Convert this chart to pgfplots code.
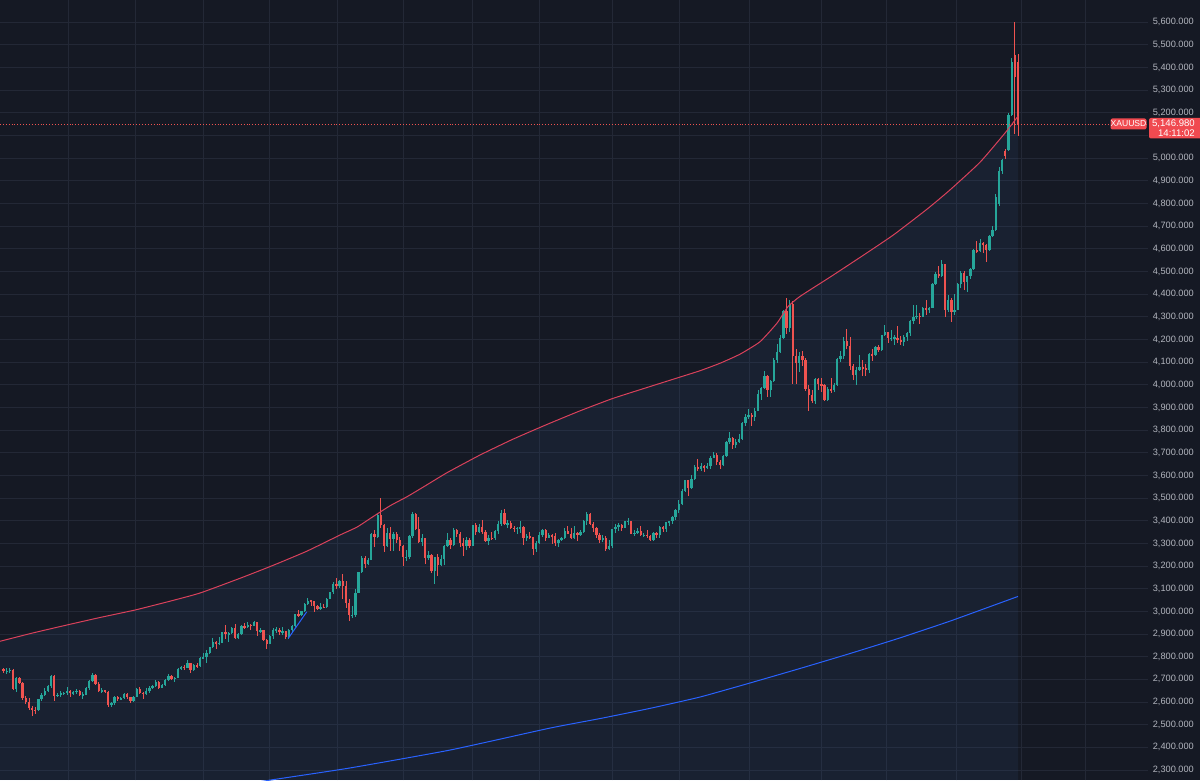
\documentclass[border=0pt]{standalone}
\usepackage{pgfplots}
\pgfplotsset{compat=1.18}
\usepackage{pgfplotstable}
\usepackage{fontspec}
\setmainfont{Liberation Sans}
\definecolor{bg}{HTML}{151924}
\definecolor{fillbase}{HTML}{3C64A0}
\definecolor{gridc}{HTML}{232836}
\definecolor{upc}{HTML}{26A69A}
\definecolor{dnc}{HTML}{EF5350}
\definecolor{bandr}{HTML}{D9415B}
\definecolor{bandb}{HTML}{2962FF}
\definecolor{lbl}{HTML}{B2B5BE}
\definecolor{tag}{HTML}{F04A50}

\pgfplotstableread{
i o h l c
0 2744 2750 2728 2736
1 2736 2749 2724 2737
2 2737 2750 2726 2742
3 2742 2746 2652 2659
4 2659 2711 2643 2706
5 2706 2712 2678 2685
6 2685 2688 2611 2619
7 2619 2627 2590 2598
8 2598 2618 2565 2573
9 2573 2581 2537 2565
10 2565 2577 2546 2563
11 2563 2615 2560 2612
12 2612 2640 2605 2631
13 2631 2660 2625 2650
14 2650 2674 2645 2670
15 2670 2721 2664 2715
16 2715 2720 2605 2626
17 2626 2640 2620 2633
18 2633 2647 2622 2638
19 2638 2646 2630 2639
20 2639 2665 2632 2650
21 2650 2652 2622 2640
22 2640 2650 2632 2643
23 2643 2657 2637 2650
24 2650 2655 2628 2632
25 2632 2645 2614 2633
26 2633 2668 2630 2660
27 2660 2697 2655 2694
28 2694 2726 2690 2718
29 2718 2722 2675 2680
30 2680 2690 2643 2648
31 2648 2660 2638 2652
32 2652 2655 2638 2646
33 2646 2650 2580 2587
34 2587 2598 2580 2594
35 2594 2626 2585 2622
36 2622 2625 2603 2612
37 2612 2621 2608 2617
38 2617 2639 2615 2634
39 2634 2639 2614 2621
40 2621 2623 2597 2606
41 2606 2628 2598 2624
42 2624 2662 2622 2658
43 2658 2665 2636 2640
44 2640 2646 2615 2636
45 2636 2660 2630 2648
46 2648 2670 2640 2662
47 2662 2675 2658 2670
48 2670 2697 2665 2690
49 2690 2692 2657 2663
50 2663 2680 2660 2677
51 2677 2700 2670 2697
52 2697 2725 2694 2715
53 2715 2718 2698 2702
54 2702 2712 2690 2708
55 2708 2748 2706 2745
56 2745 2760 2740 2755
57 2755 2763 2743 2752
58 2752 2785 2750 2771
59 2771 2773 2730 2740
60 2740 2766 2738 2763
61 2763 2770 2750 2758
62 2758 2800 2756 2794
63 2794 2817 2790 2798
64 2798 2830 2772 2815
65 2815 2845 2810 2842
66 2842 2882 2840 2866
67 2866 2870 2835 2856
68 2856 2886 2853 2861
69 2861 2911 2860 2908
70 2908 2942 2880 2898
71 2898 2910 2865 2904
72 2904 2932 2900 2928
73 2928 2945 2876 2883
74 2883 2905 2880 2898
75 2898 2938 2897 2935
76 2935 2947 2922 2931
77 2931 2955 2927 2940
78 2940 2944 2918 2936
79 2936 2956 2934 2951
80 2951 2952 2890 2915
81 2915 2925 2904 2916
82 2916 2920 2870 2875
83 2875 2880 2833 2858
84 2858 2896 2856 2893
85 2893 2928 2880 2918
86 2918 2930 2905 2920
87 2920 2925 2895 2910
88 2910 2930 2895 2912
89 2912 2915 2880 2889
90 2889 2921 2880 2916
91 2916 2940 2910 2934
92 2934 2990 2932 2988
93 2988 3005 2975 2984
94 2984 3002 2980 3000
95 3000 3038 2998 3034
96 3034 3057 3030 3048
97 3048 3050 3022 3044
98 3044 3047 2999 3022
99 3022 3030 3004 3011
100 3011 3035 3006 3020
101 3020 3032 3013 3018
102 3018 3060 3014 3056
103 3056 3087 3054 3085
104 3085 3128 3076 3123
105 3123 3149 3100 3113
106 3113 3140 3105 3134
107 3134 3167 3054 3114
108 3114 3136 3015 3037
109 3037 3055 2956 2982
110 2982 3023 2970 2985
111 2985 3100 2975 3082
112 3082 3176 3080 3175
113 3175 3245 3170 3237
114 3237 3245 3193 3210
115 3210 3236 3205 3228
116 3228 3345 3225 3342
117 3342 3358 3283 3327
118 3327 3430 3325 3425
119 3425 3500 3367 3381
120 3381 3386 3260 3288
121 3288 3368 3285 3348
122 3348 3371 3267 3318
123 3318 3351 3268 3343
124 3343 3352 3300 3316
125 3316 3327 3268 3288
126 3288 3291 3202 3238
127 3238 3270 3222 3240
128 3240 3337 3230 3333
129 3333 3438 3325 3430
130 3430 3435 3360 3365
131 3365 3415 3300 3306
132 3306 3340 3290 3325
133 3325 3326 3208 3235
134 3235 3265 3228 3250
135 3250 3252 3170 3178
136 3178 3242 3120 3240
137 3240 3252 3154 3203
138 3203 3250 3200 3229
139 3229 3295 3205 3290
140 3290 3345 3285 3315
141 3315 3325 3277 3294
142 3294 3366 3287 3357
143 3357 3365 3330 3342
144 3342 3350 3285 3300
145 3300 3325 3245 3288
146 3288 3330 3272 3317
147 3317 3325 3280 3289
148 3289 3383 3288 3380
149 3380 3392 3335 3352
150 3352 3385 3345 3372
151 3372 3404 3340 3352
152 3352 3358 3306 3310
153 3310 3335 3295 3325
154 3325 3349 3315 3322
155 3322 3360 3315 3355
156 3355 3400 3340 3386
157 3386 3446 3378 3432
158 3432 3452 3380 3385
159 3385 3403 3368 3388
160 3388 3398 3362 3369
161 3369 3375 3350 3364
162 3364 3373 3340 3368
163 3368 3398 3348 3372
164 3372 3375 3295 3323
165 3323 3340 3311 3332
166 3332 3350 3318 3327
167 3327 3330 3250 3274
168 3274 3310 3262 3303
169 3303 3350 3298 3338
170 3338 3365 3330 3357
171 3357 3365 3310 3326
172 3326 3345 3322 3337
173 3337 3342 3296 3331
174 3331 3347 3287 3301
175 3301 3318 3283 3313
176 3313 3330 3310 3324
177 3324 3368 3320 3355
178 3355 3375 3340 3343
179 3343 3366 3320 3324
180 3324 3377 3320 3347
181 3347 3352 3310 3338
182 3338 3360 3332 3350
183 3350 3402 3345 3397
184 3397 3438 3383 3431
185 3431 3434 3381 3387
186 3387 3395 3351 3368
187 3368 3372 3325 3336
188 3336 3345 3301 3314
189 3314 3335 3308 3326
190 3326 3334 3268 3275
191 3275 3315 3272 3289
192 3289 3364 3280 3362
193 3362 3385 3345 3373
194 3373 3390 3355 3380
195 3380 3385 3355 3369
196 3369 3400 3368 3397
197 3397 3410 3380 3398
198 3398 3400 3340 3342
199 3342 3358 3331 3348
200 3348 3369 3342 3356
201 3356 3375 3332 3335
202 3335 3345 3330 3338
203 3338 3357 3323 3332
204 3332 3335 3310 3315
205 3315 3350 3311 3348
206 3348 3352 3325 3339
207 3339 3378 3322 3372
208 3372 3376 3351 3365
209 3365 3394 3350 3393
210 3393 3398 3378 3397
211 3397 3423 3385 3416
212 3416 3454 3403 3448
213 3448 3490 3436 3476
214 3476 3540 3470 3533
215 3533 3580 3525 3578
216 3578 3580 3511 3545
217 3545 3600 3540 3586
218 3586 3646 3580 3636
219 3636 3674 3620 3627
220 3627 3656 3619 3641
221 3641 3645 3613 3634
222 3634 3655 3630 3643
223 3643 3685 3630 3679
224 3679 3703 3675 3690
225 3690 3697 3645 3660
226 3660 3668 3628 3644
227 3644 3690 3640 3685
228 3685 3750 3682 3746
229 3746 3790 3740 3763
230 3763 3770 3718 3736
231 3736 3761 3722 3749
232 3749 3782 3742 3760
233 3760 3835 3757 3833
234 3833 3872 3817 3858
235 3858 3895 3850 3866
236 3866 3875 3820 3857
237 3857 3897 3840 3886
238 3886 3977 3884 3961
239 3961 3990 3935 3985
240 3985 4060 3980 4040
241 4040 4045 3945 3975
242 3975 4022 3944 4017
243 4017 4117 4012 4110
244 4110 4180 4095 4143
245 4143 4218 4140 4208
246 4208 4330 4200 4326
247 4326 4381 4226 4251
248 4251 4375 4235 4356
249 4356 4370 4004 4125
250 4125 4160 4004 4095
251 4095 4146 4056 4126
252 4126 4147 4085 4111
253 4111 4116 3971 3981
254 3981 3999 3886 3953
255 3953 3975 3920 3930
256 3930 4030 3915 4025
257 4025 4030 3975 4002
258 4002 4030 3966 3998
259 3998 4005 3930 3932
260 3932 3990 3928 3980
261 3980 4028 3965 3977
262 3977 4010 3970 4000
263 4000 4120 3995 4115
264 4115 4149 4100 4127
265 4127 4210 4115 4195
266 4195 4245 4160 4170
267 4170 4210 4065 4085
268 4085 4093 4020 4045
269 4045 4080 4000 4067
270 4067 4132 4060 4078
271 4078 4110 4040 4074
272 4074 4090 4040 4065
273 4065 4140 4050 4135
274 4135 4156 4105 4131
275 4131 4170 4125 4165
276 4165 4175 4145 4155
277 4155 4220 4150 4218
278 4218 4264 4215 4231
279 4231 4233 4185 4205
280 4205 4240 4195 4206
281 4206 4218 4175 4208
282 4208 4258 4185 4197
283 4197 4215 4175 4190
284 4190 4218 4170 4209
285 4209 4235 4195 4229
286 4229 4287 4215 4280
287 4280 4352 4270 4300
288 4300 4350 4290 4305
289 4305 4315 4270 4301
290 4301 4345 4298 4338
291 4338 4375 4310 4332
292 4332 4345 4315 4339
293 4339 4450 4337 4445
294 4445 4497 4440 4490
295 4490 4526 4470 4480
296 4480 4550 4475 4532
297 4532 4535 4300 4330
298 4330 4395 4320 4375
299 4375 4385 4275 4320
300 4320 4400 4310 4330
301 4330 4450 4328 4445
302 4445 4500 4425 4495
303 4495 4500 4420 4455
304 4455 4480 4410 4478
305 4478 4515 4465 4510
306 4510 4600 4505 4595
307 4595 4635 4580 4590
308 4590 4642 4585 4625
309 4625 4630 4580 4615
310 4615 4620 4540 4595
311 4595 4660 4590 4655
312 4655 4700 4650 4685
313 4685 4840 4680 4830
314 4800 4960 4790 4945
315 4945 4995 4930 4990
316 5030 5040 4998 5010
317 5036 5200 5030 5190
318 5190 5440 5185 5425
319 5455 5600 5105 5360
320 5425 5462 5100 5147
}\ohlc

\pgfplotstableread{
x p
0 2868
33 2905
67 2940
100 2973
135 3006
170 3045
200 3081
240 3146
273 3203
307 3266
340 3337
357 3372
373 3418
390 3466
407 3506
423 3548
447 3612
480 3690
513 3760
547 3825
580 3885
613 3940
647 3988
680 4034
700 4062
720 4095
740 4135
760 4190
777 4272
788 4345
800 4390
830 4475
860 4562
893 4660
927 4775
950 4860
980 4982
1005 5111
1018 5185
}\redband

\pgfplotstableread{
x p
200 2208
277 2260
350 2309
450 2388
550 2485
600 2527
650 2572
700 2622
750 2684
800 2748
850 2814
900 2883
950 2957
1000 3037
1018 3066
}\blueband

\pgfplotstableread{
x p
288.3 2881
306.7 2998
}\blueseg

\begin{document}
\begin{tikzpicture}[x=1pt,y=1pt]
\fill[bg] (0,0) rectangle (1200,780);
\begin{axis}[
  at={(0,0)}, anchor=south west,
  scale only axis, width=1148pt, height=780pt,
  xmin=0, xmax=1148, ymin=2255.87, ymax=5698.1,
  axis line style={draw=none},
  major tick length=0pt,
  tick style={draw=none},
  xtick={68,135,203,269,337,403,472,539,612,679,749,821,886,956,1021,1085},
  xticklabels={},
  ytick={2300,2400,...,5000,5200,5300,5400,5500,5600},
  extra y ticks={5100},
  extra y tick labels={},
  extra y tick style={grid=major},
  grid=major,
  major grid style={draw=gridc, line width=0.8pt},
  yticklabel pos=right,
  yticklabel style={font=\fontsize{9.2}{11}\selectfont, text=lbl, anchor=east, inner sep=0pt, xshift=46pt},
  /pgf/number format/.cd, fixed, fixed zerofill, precision=3, 1000 sep={,}, assume math mode=true,
]
% fill under upper band
\addplot[fill=fillbase, fill opacity=0.11, draw=none, forget plot, smooth, tension=0.3] table[x=x,y=p]{\redband} \closedcycle;
% wicks up
\addplot[draw=none, mark=none, forget plot, restrict y to domain=0:10000,
  error bars/.cd, y dir=both, y explicit, error mark=none,
  error bar style={draw=upc, line width=0.9pt}]
  table[x expr={1018-3.17*(320-\thisrow{i})},
        y expr={\thisrow{c}>=\thisrow{o} ? (\thisrow{h}+\thisrow{l})/2 : -1},
        y error expr={(\thisrow{h}-\thisrow{l})/2}] {\ohlc};
% wicks down
\addplot[draw=none, mark=none, forget plot, restrict y to domain=0:10000,
  error bars/.cd, y dir=both, y explicit, error mark=none,
  error bar style={draw=dnc, line width=0.9pt}]
  table[x expr={1018-3.17*(320-\thisrow{i})},
        y expr={\thisrow{c}<\thisrow{o} ? (\thisrow{h}+\thisrow{l})/2 : -1},
        y error expr={(\thisrow{h}-\thisrow{l})/2}] {\ohlc};
% bodies up
\addplot[draw=none, mark=none, forget plot, restrict y to domain=0:10000,
  error bars/.cd, y dir=both, y explicit, error mark=none,
  error bar style={draw=upc, line width=2.3pt}]
  table[x expr={1018-3.17*(320-\thisrow{i})},
        y expr={\thisrow{c}>=\thisrow{o} ? (\thisrow{o}+\thisrow{c})/2 : -1},
        y error expr={max(abs(\thisrow{c}-\thisrow{o})/2,2.5)}] {\ohlc};
% bodies down
\addplot[draw=none, mark=none, forget plot, restrict y to domain=0:10000,
  error bars/.cd, y dir=both, y explicit, error mark=none,
  error bar style={draw=dnc, line width=2.3pt}]
  table[x expr={1018-3.17*(320-\thisrow{i})},
        y expr={\thisrow{c}<\thisrow{o} ? (\thisrow{o}+\thisrow{c})/2 : -1},
        y error expr={max(abs(\thisrow{c}-\thisrow{o})/2,2.5)}] {\ohlc};
% bands
\addplot[bandr, line width=1pt, mark=none, smooth, tension=0.3, forget plot] table[x=x,y=p]{\redband};
\addplot[bandb, line width=1pt, mark=none, smooth, tension=0.3, forget plot] table[x=x,y=p]{\blueband};
\addplot[bandb, line width=1pt, mark=none, forget plot] table[x=x,y=p]{\blueseg};
% last price line
\addplot[dnc, dotted, line width=0.9pt, mark=none, forget plot] coordinates {(0,5146.98) (1148,5146.98)};
\end{axis}
% price tags
\fill[tag, rounded corners=2pt] (1110.5,650.5) rectangle (1146.5,661.5);
\node[text=white, font=\fontsize{8.6}{10}\selectfont, inner sep=0pt] at (1128.5,656) {XAUUSD};
\fill[tag, rounded corners=2pt] (1149,641.5) rectangle (1203,662);
\node[text=white, font=\fontsize{9.6}{10}\selectfont, inner sep=0pt, anchor=east] at (1195,656) {5,146.980};
\node[text=white, font=\fontsize{9.6}{10}\selectfont, inner sep=0pt, anchor=east] at (1195,646.5) {14:11:02};
\pgfresetboundingbox
\path[use as bounding box] (0,0) rectangle (1200,780);
\end{tikzpicture}
\end{document}
